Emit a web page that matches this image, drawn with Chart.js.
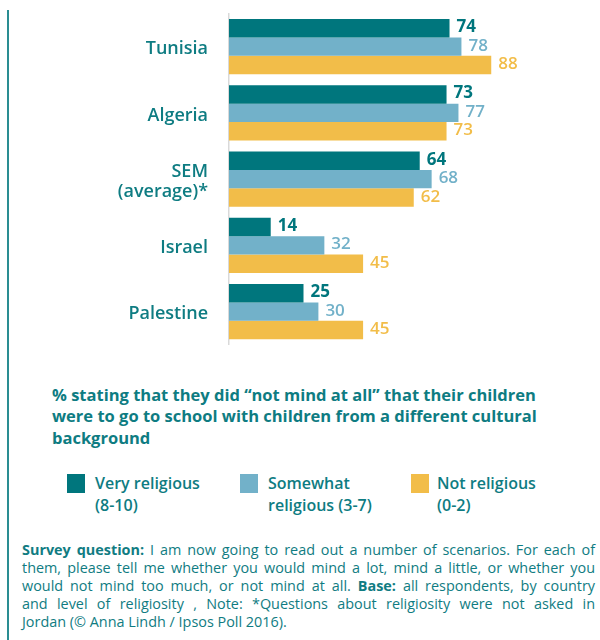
<!DOCTYPE html>
<html>
<head>
<meta charset="utf-8">
<script src="https://cdn.jsdelivr.net/npm/chart.js@4.4.1/dist/chart.umd.min.js"></script>
<style>
  html, body { margin: 0; padding: 0; background: #fff; }
  body { width: 600px; height: 640px; position: relative; overflow: hidden; font-family: "Open Sans", sans-serif; color: #0e7c82; }
  #vline { position: absolute; left: 7px; top: 10px; width: 2px; height: 630px; background: #2a8d92; }
  #chartWrap { position: absolute; left: 0; top: 0; width: 600px; height: 360px; }
  #title { position: absolute; left: 52px; top: 384px; width: 545px; font-size: 16.5px; font-weight: 700; line-height: 21.3px; white-space: nowrap; }
  #legend { position: absolute; left: 0; top: 473px; width: 600px; height: 50px; }
  .li { position: absolute; top: 0; font-size: 16px; font-weight: 600; line-height: 21.7px; white-space: nowrap; }
  .box { position: absolute; width: 18px; height: 19px; top: 1px; }
  #footer { position: absolute; left: 22px; top: 540.5px; width: 573px; font-size: 14.4px; line-height: 18px; color: #107c82; }
  #footer div { text-align: justify; text-align-last: justify; white-space: nowrap; }
  #footer div.last { text-align-last: left; }
  b { font-weight: 700; }
</style>
</head>
<body>
<div id="vline"></div>
<div id="chartWrap"><canvas id="c"></canvas></div>
<div id="title">% stating that they did “not mind at all” that their children<br>were to go to school with children from a different cultural<br>background</div>
<div id="legend"></div>
<div id="footer">
  <div><b>Survey question:</b> I am now going to read out a number of scenarios. For each of</div>
  <div>them, please tell me whether you would mind a lot, mind a little, or whether you</div>
  <div>would not mind too much, or not mind at all. <b>Base:</b> all respondents, by country</div>
  <div>and level of religiosity , Note: *Questions about religiosity were not asked in</div>
  <div class="last">Jordan (© Anna Lindh / Ipsos Poll 2016).</div>
</div>
<script>
const categories = ['Tunisia', 'Algeria', ['SEM', '(average)*'], 'Israel', 'Palestine'];
const seriesNames = [['Very religious', '(8-10)'], ['Somewhat', 'religious (3-7)'], ['Not religious', '(0-2)']];
const veryReligious = [74, 73, 64, 14, 25];
const somewhatReligious = [78, 77, 68, 32, 30];
const notReligious = [88, 73, 62, 45, 45];
const xTicks = [0, 100];

const colors = ['#00767d', '#72b1c9', '#f2bd49'];
const labelWeights = ['700', '600', '600'];
const textColor = '#0e7c82';

// HTML legend built from series names/colors
const legendPos = [{box: 67, text: 95}, {box: 240, text: 268}, {box: 411, text: 437}];
const legendEl = document.getElementById('legend');
seriesNames.forEach((n, i) => {
  const b = document.createElement('div');
  b.className = 'box';
  b.style.left = legendPos[i].box + 'px';
  b.style.background = colors[i];
  legendEl.appendChild(b);
  const t = document.createElement('div');
  t.className = 'li';
  t.style.left = legendPos[i].text + 'px';
  t.innerHTML = n.join('<br>');
  legendEl.appendChild(t);
});

const valueLabels = {
  id: 'valueLabels',
  afterDatasetsDraw(chart) {
    const ctx = chart.ctx;
    ctx.save();
    chart.data.datasets.forEach((ds, di) => {
      const meta = chart.getDatasetMeta(di);
      ctx.font = labelWeights[di] + ' 17px "Open Sans"';
      ctx.fillStyle = colors[di];
      ctx.textAlign = 'left';
      ctx.textBaseline = 'alphabetic';
      meta.data.forEach((el, i) => {
        ctx.fillText(String(ds.data[i]), el.x + 7, el.y + 4);
      });
    });
    ctx.restore();
  }
};

new Chart(document.getElementById('c'), {
  type: 'bar',
  data: {
    labels: categories,
    datasets: [
      { label: seriesNames[0].join(' '), data: veryReligious, backgroundColor: colors[0] },
      { label: seriesNames[1].join(' '), data: somewhatReligious, backgroundColor: colors[1] },
      { label: seriesNames[2].join(' '), data: notReligious, backgroundColor: colors[2] }
    ]
  },
  options: {
    indexAxis: 'y',
    responsive: true,
    maintainAspectRatio: false,
    animation: false,
    datasets: { bar: { categoryPercentage: 0.835, barPercentage: 1.0, borderWidth: 0 } },
    layout: { padding: { left: 0, right: 73, top: 13.5, bottom: 15.25 } },
    plugins: { legend: { display: false }, tooltip: { enabled: false } },
    scales: {
      x: {
        display: false,
        min: xTicks[0],
        max: xTicks[1]
      },
      y: {
        afterFit(scale) { scale.width = 229; },
        grid: { display: false, drawTicks: true, tickLength: 21 },
        border: { display: true, color: '#d9d9d9', width: 1.5, dash: [63.5, 3], dashOffset: 65 },
        ticks: {
          padding: 0,
          labelOffset: 2.5,
          color: textColor,
          font: { family: 'Open Sans', size: 18, weight: '600', lineHeight: 1.1 }
        }
      }
    }
  },
  plugins: [valueLabels]
});
</script>
</body>
</html>
